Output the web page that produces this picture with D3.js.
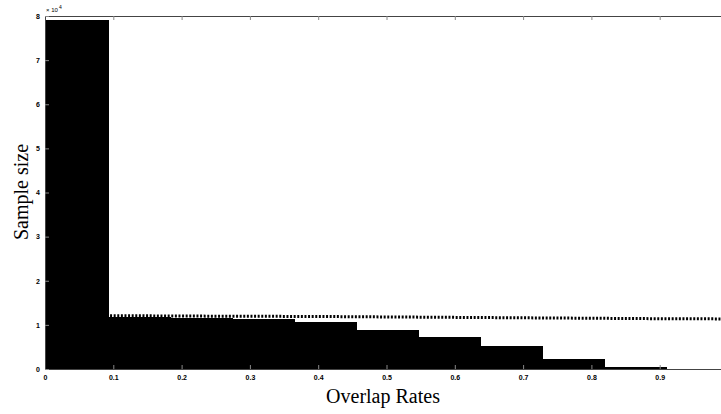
<!DOCTYPE html>
<html>
<head>
<meta charset="utf-8">
<script src="https://cdn.jsdelivr.net/npm/d3@7"></script>
<style>
    body { margin: 0; background: #fff; }
    .tick text { font-family: "Liberation Sans", Arial, sans-serif; font-size: 7px; font-weight: bold; fill: #000; }
    .lbl { font-family: "Liberation Serif", "Times New Roman", serif; font-size: 20px; fill: #000; }
</style>
</head>
<body>
<div id="content"></div>
<script>
// histogram of overlap rates, 11 equal bins on [0, 1]
var binCounts = [79000, 11800, 11600, 11300, 10700, 8800, 7200, 5200, 2200, 400, 0];
// dotted reference line
var lineRates = [0.09, 0.2, 0.3, 0.4, 0.5, 0.6, 0.7, 0.8, 0.9, 1.0];
var lineValues = [12100, 12000, 11950, 11900, 11800, 11700, 11600, 11500, 11400, 11350];
var xTicks = [0, 0.1, 0.2, 0.3, 0.4, 0.5, 0.6, 0.7, 0.8, 0.9];
var yTicks = [0, 10000, 20000, 30000, 40000, 50000, 60000, 70000, 80000];

var W = 721, H = 414;
var margin = {top: 16, left: 45, bottom: 45};

var svg = d3.select("div#content").append("svg")
    .attr("width", W)
    .attr("height", H);

var x = d3.scaleLinear().domain([0, 1]).range([margin.left, 728]);
var y = d3.scaleLinear().domain([0, 80000]).range([H - margin.bottom, margin.top]);

var nb = binCounts.length;
var bins = binCounts.map(function(v, i) {
    return {x0: i / nb, x1: (i + 1) / nb, v: v};
});

svg.selectAll(".bar")
    .data(bins)
    .enter().append("rect")
    .attr("class", "bar")
    .attr("x", function(d) { return Math.floor(x(d.x0)); })
    .attr("width", function(d) { return Math.ceil(x(d.x1)) - Math.floor(x(d.x0)) + 1; })
    .attr("y", function(d) { return y(d.v); })
    .attr("height", function(d) { return y(0) - y(d.v); })
    .attr("fill", "#000")
    .attr("shape-rendering", "crispEdges");

// dotted line
var line = d3.line()
    .x(function(d) { return x(d[0]); })
    .y(function(d) { return y(d[1]); });

svg.append("path")
    .datum(lineRates.map(function(r, i) { return [r, lineValues[i]]; }))
    .attr("d", line)
    .attr("fill", "none")
    .attr("stroke", "#000")
    .attr("stroke-width", 3)
    .attr("stroke-dasharray", "2,1.6");

// axes
svg.append("g")
    .attr("transform", "translate(0," + y(0) + ")")
    .call(d3.axisBottom(x).tickValues(xTicks).tickSize(-4).tickPadding(6)
        .tickFormat(function(d) { return d === 0 ? "0" : d3.format(".1f")(d); }))
    .call(function(g) {
        g.select(".domain").attr("stroke", "#444");
        g.selectAll(".tick line").attr("stroke", "#888");
    });

svg.append("g")
    .attr("transform", "translate(0," + y(80000) + ")")
    .call(d3.axisTop(x).tickValues(xTicks).tickSize(-4).tickFormat(""))
    .call(function(g) {
        g.select(".domain").attr("stroke", "#444");
        g.selectAll(".tick line").attr("stroke", "#888");
    });

svg.append("g")
    .attr("transform", "translate(" + margin.left + ",0)")
    .call(d3.axisLeft(y).tickValues(yTicks).tickSize(-4).tickPadding(5)
        .tickFormat(function(d) { return d / 10000; }))
    .call(function(g) {
        g.select(".domain").attr("stroke", "#444");
        g.selectAll(".tick line").attr("stroke", "#888");
    });

// exponent label
svg.append("text")
    .attr("x", margin.left + 1)
    .attr("y", margin.top - 4)
    .style("font-family", "Liberation Sans, Arial, sans-serif")
    .style("font-size", "6px")
    .text("\u00d7 10");
svg.append("text")
    .attr("x", margin.left + 14)
    .attr("y", margin.top - 7)
    .style("font-family", "Liberation Sans, Arial, sans-serif")
    .style("font-size", "5px")
    .text("4");

svg.append("text")
    .attr("class", "lbl")
    .attr("x", 383)
    .attr("y", 403)
    .attr("text-anchor", "middle")
    .text("Overlap Rates");

svg.append("text")
    .attr("class", "lbl")
    .attr("transform", "translate(28,192) rotate(-90)")
    .attr("text-anchor", "middle")
    .text("Sample size");
</script>
</body>
</html>
